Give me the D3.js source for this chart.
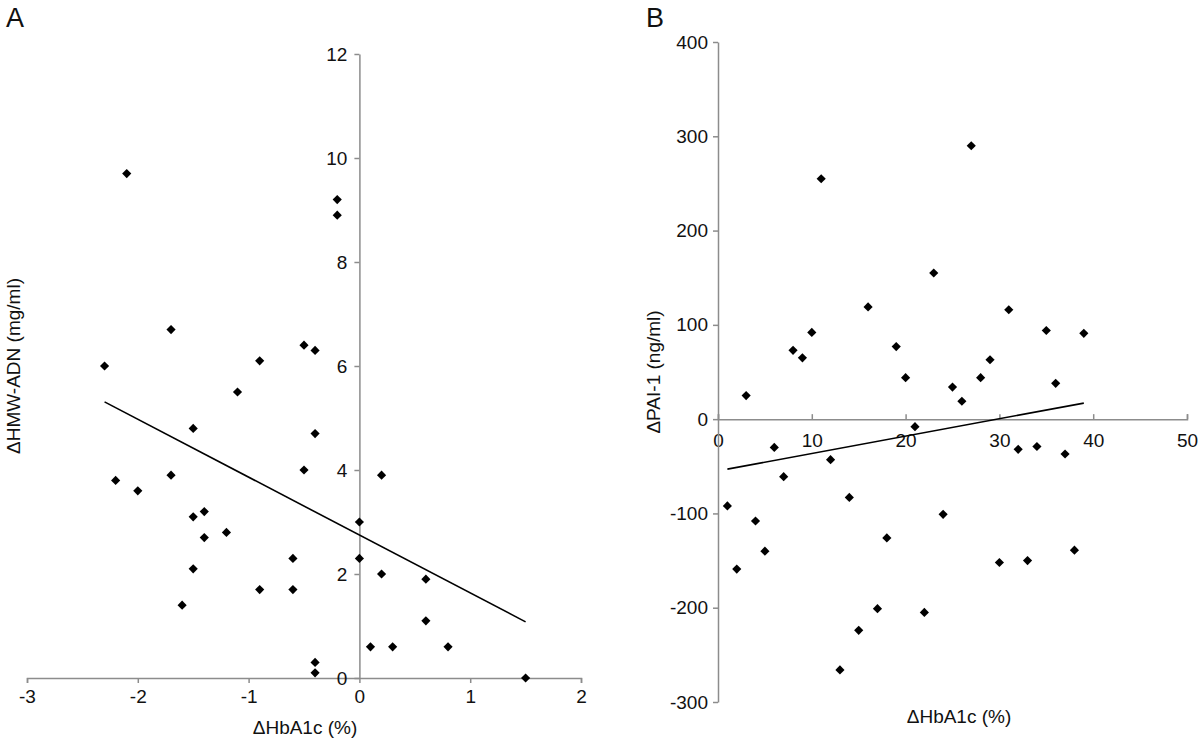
<!DOCTYPE html>
<html>
<head>
<meta charset="utf-8">
<script src="https://cdn.jsdelivr.net/npm/d3@7"></script>
<style>
  body { margin: 0; background: #fff; }
  svg text { font-family: "Liberation Sans", Arial, Helvetica, sans-serif; fill: #111; }
  .axis path, .axis line { stroke: #8c8c8c; stroke-width: 1.5px; }
  .axis text { font-size: 19px; }
</style>
</head>
<body>
<div id="svg_area"></div>
<script>
// Panel A: change in HbA1c vs change in HMW-adiponectin
var hba1cA = [-2.1, -0.2, -0.2, -1.7, -0.5, -0.4, -0.9, -2.3, -1.1, -1.5, -0.4, -0.5,
  -2.2, -1.7, 0.2, -2.0, -1.5, -1.4, 0, -1.2, -1.4, -0.6, 0, -1.5, 0.2, -0.9, -0.6,
  -1.6, 0.1, -0.4, -0.4, 0.6, 0.6, 0.3, 0.8, 1.5];
var hmwA = [9.7, 9.2, 8.9, 6.7, 6.4, 6.3, 6.1, 6.0, 5.5, 4.8, 4.7, 4.0,
  3.8, 3.9, 3.9, 3.6, 3.1, 3.2, 3.0, 2.8, 2.7, 2.3, 2.3, 2.1, 2.0, 1.7, 1.7,
  1.4, 0.6, 0.3, 0.1, 1.9, 1.1, 0.6, 0.6, 0.0];
var trendAx = [-2.3, 1.5];
var trendAy = [5.31, 1.08];
var ticksAx = [-3, -2, -1, 0, 1, 2];
var ticksAy = [0, 2, 4, 6, 8, 10, 12];

// Panel B: change in PAI-1
var hba1cB = [1, 2, 3, 4, 5, 6, 7, 8, 9, 10, 11, 12, 13, 14, 15, 16, 17, 18, 19, 20,
  21, 22, 23, 24, 25, 26, 27, 28, 29, 30, 31, 32, 33, 34, 35, 36, 37, 38, 39];
var pai1B = [-92, -159, 25, -108, -140, -30, -61, 73, 65, 92, 255, -43, -266, -83, -224,
  119, -201, -126, 77, 44, -8, -205, 155, -101, 34, 19, 290, 44, 63, -152, 116, -32,
  -150, -29, 94, 38, -37, -139, 91];
var trendBx = [1, 39];
var trendBy = [-53, 17];
var ticksBx = [0, 10, 20, 30, 40, 50];
var ticksBy = [-300, -200, -100, 0, 100, 200, 300, 400];

// SVG area
var svgWidth = 1200;
var svgHeight = 741;

var svg = d3.select("#svg_area")
  .append("svg")
  .attr("width", svgWidth)
  .attr("height", svgHeight);

var diamond = d3.symbol().type(d3.symbolSquare).size(42);
var fmt = d => String(d);

// ---------- Panel A ----------
var xA = d3.scaleLinear().domain([-3, 2]).range([27, 581]);
var yA = d3.scaleLinear().domain([0, 12]).range([678, 54]);

svg.append("g")
  .classed("axis", true)
  .attr("transform", `translate(0, ${yA(0)})`)
  .call(d3.axisBottom(xA).tickValues(ticksAx).tickFormat(fmt)
    .tickSizeInner(5).tickSizeOuter(5).tickPadding(6.5));

svg.append("g")
  .classed("axis", true)
  .attr("transform", `translate(${xA(0)}, 0)`)
  .call(d3.axisLeft(yA).tickValues(ticksAy).tickFormat(fmt)
    .tickSizeInner(5).tickSizeOuter(0).tickPadding(7));

svg.append("path")
  .datum(d3.zip(trendAx, trendAy))
  .attr("fill", "none")
  .attr("stroke", "#000")
  .attr("stroke-width", 1.6)
  .attr("d", d3.line().x(d => xA(d[0])).y(d => yA(d[1])));

svg.append("g").selectAll("path")
  .data(d3.zip(hba1cA, hmwA))
  .enter()
  .append("path")
  .attr("d", diamond)
  .attr("fill", "#000")
  .attr("transform", d => `translate(${xA(d[0])}, ${yA(d[1])}) rotate(45)`);

svg.append("text")
  .attr("x", 6)
  .attr("y", 27)
  .attr("font-size", "27px")
  .text("A");

svg.append("text")
  .attr("transform", "translate(20, 366) rotate(-90)")
  .attr("text-anchor", "middle")
  .attr("font-size", "19px")
  .text("\u0394HMW-ADN (mg/ml)");

svg.append("text")
  .attr("x", 305)
  .attr("y", 734)
  .attr("text-anchor", "middle")
  .attr("font-size", "19px")
  .text("\u0394HbA1c (%)");

// ---------- Panel B ----------
var xB = d3.scaleLinear().domain([0, 50]).range([718, 1187]);
var yB = d3.scaleLinear().domain([-300, 400]).range([702, 42]);

svg.append("g")
  .classed("axis", true)
  .attr("transform", `translate(0, ${yB(0)})`)
  .call(d3.axisBottom(xB).tickValues(ticksBx).tickFormat(fmt)
    .tickSizeInner(-5).tickSizeOuter(-5).tickPadding(14.5));

svg.append("g")
  .classed("axis", true)
  .attr("transform", `translate(${xB(0)}, 0)`)
  .call(d3.axisLeft(yB).tickValues(ticksBy).tickFormat(fmt)
    .tickSizeInner(5).tickSizeOuter(0).tickPadding(5));

svg.append("path")
  .datum(d3.zip(trendBx, trendBy))
  .attr("fill", "none")
  .attr("stroke", "#000")
  .attr("stroke-width", 1.6)
  .attr("d", d3.line().x(d => xB(d[0])).y(d => yB(d[1])));

svg.append("g").selectAll("path")
  .data(d3.zip(hba1cB, pai1B))
  .enter()
  .append("path")
  .attr("d", diamond)
  .attr("fill", "#000")
  .attr("transform", d => `translate(${xB(d[0])}, ${yB(d[1])}) rotate(45)`);

svg.append("text")
  .attr("x", 646)
  .attr("y", 27)
  .attr("font-size", "27px")
  .text("B");

svg.append("text")
  .attr("transform", "translate(660, 372) rotate(-90)")
  .attr("text-anchor", "middle")
  .attr("font-size", "19px")
  .text("\u0394PAI-1 (ng/ml)");

svg.append("text")
  .attr("x", 959)
  .attr("y", 723)
  .attr("text-anchor", "middle")
  .attr("font-size", "19px")
  .text("\u0394HbA1c (%)");
</script>
</body>
</html>
